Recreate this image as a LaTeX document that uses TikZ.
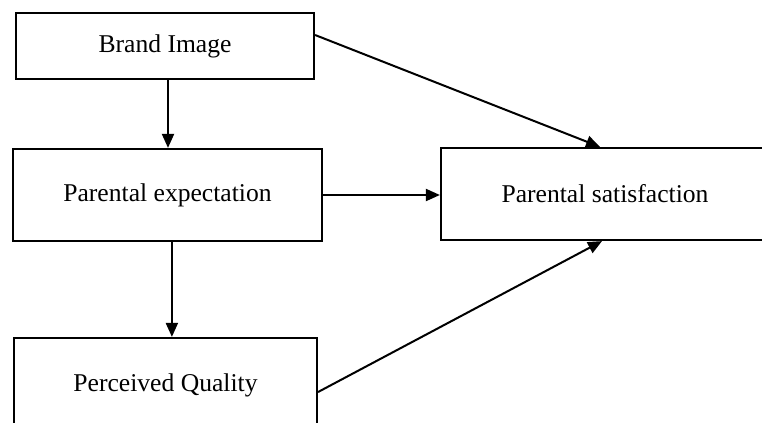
\documentclass[tikz,border=0pt]{standalone}
\usepackage{fontspec}
\setmainfont{Liberation Serif}
\usetikzlibrary{arrows.meta}
\usetikzlibrary{positioning}

\begin{document}
\begin{tikzpicture}[x=0.5pt, y=-0.5pt,
                    construct/.style={
                        draw,
                        line width=1.1pt,
                        inner sep=0pt,
                        font=\fontsize{12.8}{15}\selectfont
                    },
                    path/.style={
                        draw,
                        line width=1pt,
                        -{Triangle[length=7pt,width=6pt]}
                    }]

    \clip (0,0) rectangle (762,423);

    \node[construct, minimum width=149pt, minimum height=33pt]
        (brand) at (165,46) {Brand Image};
    \node[construct, minimum width=154.5pt, minimum height=46pt]
        (expect) at (167.5,195) {Parental expectation};
    \node[construct, minimum width=151.5pt, minimum height=47pt]
        (quality) at (165.5,385) {Perceived Quality};
    \node[construct, minimum width=164pt, minimum height=46pt]
        (satis) at (605,194) {Parental satisfaction};

    \draw[path] ([xshift=1.5pt]brand.south) -- ([xshift=1.5pt]brand.south |- expect.north);
    \draw[path] ([xshift=2.2pt]expect.south) -- ([xshift=2.2pt]expect.south |- quality.north);
    \draw[path] (expect.east) -- (expect.east -| satis.west);
    \draw[path] ([yshift=5.5pt]brand.east) -- ([xshift=-2.5pt]satis.north);
    \draw[path] ([yshift=-3.5pt]quality.east) -- ([xshift=-1.5pt]satis.south);

\end{tikzpicture}
\end{document}
